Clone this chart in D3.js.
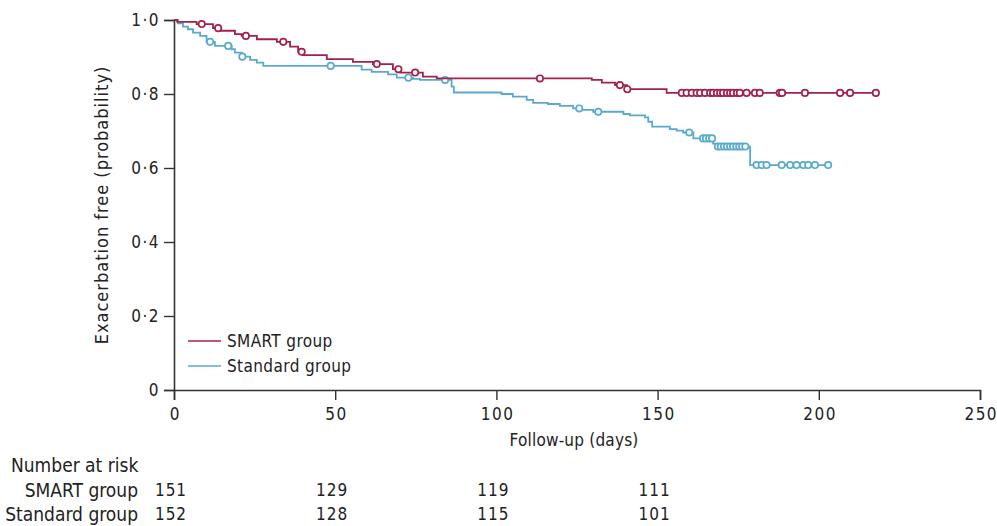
<!DOCTYPE html>
<html><head><meta charset="utf-8">
<script src="https://cdn.jsdelivr.net/npm/d3@7"></script>
<style>
body{margin:0;background:#fff}
text{font-family:"Liberation Sans Narrow","DejaVu Sans Condensed",sans-serif;fill:#222}
</style></head>
<body><svg id="c" width="997" height="526"></svg>
<script>
// ---- data ----
const smartTimes=[0,1,7,12.1,14.3,18.9,21,25.7,31.9,36,38.5,40,47.4,55.5,61.7,67.9,70.1,77.2,81.5,129.6,132.7,136.8,140.5,152.8];
const smartSurv=[1,0.995,0.989,0.978,0.971,0.962,0.957,0.948,0.941,0.928,0.914,0.905,0.894,0.887,0.881,0.867,0.858,0.847,0.842,0.838,0.831,0.824,0.813,0.803];
const smartEnd=217.7;
const smartCensored=[8.6,13.7,22.3,33.9,39.6,62.9,69.6,74.8,113.5,138.3,140.6,157.5,159,160.6,162.1,163.2,164.7,166.3,167.2,168.4,169.4,170.3,171.5,172.5,173.4,174.6,175.5,177.6,180.2,181.7,187.9,188.6,195.7,206.6,209.7,217.7];

const standardTimes=[0,1.2,2.8,4.3,5.9,8.1,10.1,12.7,17.9,18.9,21,23.6,25.7,27.7,58.2,61.3,66.4,69.1,74.1,76.3,86.1,86.8,101.6,105.1,109.4,111.4,116,119.7,123.8,125.9,130,139.4,141.4,146.1,147.1,148.3,153.8,155.9,157.9,161.1,167.2,168.3,178.7];
const standardSurv=[1,0.991,0.982,0.975,0.966,0.957,0.941,0.930,0.921,0.912,0.901,0.892,0.885,0.876,0.866,0.860,0.853,0.844,0.841,0.838,0.820,0.804,0.800,0.793,0.784,0.776,0.773,0.768,0.761,0.757,0.752,0.746,0.742,0.737,0.725,0.712,0.705,0.701,0.696,0.680,0.666,0.658,0.608];
const standardEnd=202.9;
const standardCensored=[11.2,16.8,21.2,48.6,72.7,84.1,125.7,131.6,159.8,164.1,165,166,166.9,168.7,169.6,170.6,171.5,172.5,173.4,174.4,175.3,176.2,177.2,180.7,182.3,183.8,188.5,191.1,193.1,195.2,196.7,198.8,202.9];

const xTicks=[0,50,100,150,200,250];
const yTicks=[0,0.2,0.4,0.6,0.8,1.0];
const yTickLabels=["0","0·2","0·4","0·6","0·8","1·0"];
const groupNames=["SMART group","Standard group"];
const riskTimes=[0,50,100,150];
const smartRisk=[151,129,119,111];
const standardRisk=[152,128,115,101];

const colors={smart:"#a3214a",standard:"#58abcf"};

// ---- chart ----
const svg=d3.select("#c");
const x=d3.scaleLinear().domain([0,250]).range([174,980]);
const y=d3.scaleLinear().domain([0,1]).range([390,20]);
const FONT='"Liberation Sans Narrow","DejaVu Sans Condensed",sans-serif';

const axisColor="#333";
const xAxis=svg.append("g").attr("transform","translate(0,390)")
  .call(d3.axisBottom(x).tickValues(xTicks).tickSize(10).tickPadding(8).tickFormat(d3.format("d")));
const yAxis=svg.append("g").attr("transform","translate(174,0)")
  .call(d3.axisLeft(y).tickValues(yTicks).tickSize(10).tickPadding(4).tickFormat((d,i)=>yTickLabels[i]));
[xAxis,yAxis].forEach(g=>{
  g.select(".domain").attr("stroke",axisColor).attr("stroke-width",1.6);
  g.selectAll(".tick line").attr("stroke",axisColor).attr("stroke-width",1.4);
  g.selectAll("text").attr("font-size",17).attr("fill","#222")
   .style("font-family",FONT).style("letter-spacing","1.5px");
});
xAxis.selectAll(".tick text").attr("dx","0.75px");

function survAt(times,surv,t){let v=surv[0];for(let i=0;i<times.length;i++){if(times[i]<=t)v=surv[i];}return v;}

function drawCurve(times,surv,end,cens,color){
  const pts=times.map((t,i)=>[t,surv[i]]);
  pts.push([end,surv[surv.length-1]]);
  const line=d3.line().x(d=>x(d[0])).y(d=>y(d[1])).curve(d3.curveStepAfter);
  svg.append("path").datum(pts).attr("d",line).attr("fill","none").attr("stroke",color).attr("stroke-width",1.8);
  svg.append("g").selectAll("circle").data(cens).join("circle")
    .attr("cx",d=>x(d)).attr("cy",d=>y(survAt(times,surv,d))).attr("r",3.2)
    .attr("fill","#fff").attr("stroke",color).attr("stroke-width",1.7);
}
drawCurve(standardTimes,standardSurv,standardEnd,standardCensored,colors.standard);
drawCurve(smartTimes,smartSurv,smartEnd,smartCensored,colors.smart);

// legend
const lg=svg.append("g");
[[colors.smart,groupNames[0],341],[colors.standard,groupNames[1],366]].forEach(([c,t,yy])=>{
  lg.append("line").attr("x1",188).attr("x2",221).attr("y1",yy).attr("y2",yy).attr("stroke",c).attr("stroke-width",1.6);
  lg.append("text").attr("x",227).attr("y",yy).attr("dy","0.35em").attr("font-size",17).style("letter-spacing","0.4px").text(t);
});

// axis titles
svg.append("text").attr("x",574).attr("y",440).attr("dy","0.35em").attr("text-anchor","middle").attr("font-size",17).style("letter-spacing","0.2px").text("Follow-up (days)");
svg.append("text").attr("transform","translate(102,205) rotate(-90)").attr("dy","0.35em").attr("text-anchor","middle").attr("font-size",18).style("letter-spacing","1px").text("Exacerbation free (probability)");

// risk table
svg.append("text").attr("x",11).attr("y",465).attr("dy","0.35em").attr("font-size",19).text("Number at risk");
[[groupNames[0],smartRisk,490],[groupNames[1],standardRisk,514]].forEach(([n,vals,yy])=>{
  svg.append("text").attr("x",138).attr("y",yy).attr("dy","0.35em").attr("text-anchor","end").attr("font-size",19).text(n);
  svg.append("g").selectAll("text").data(vals).join("text")
    .attr("x",(d,i)=>x(riskTimes[i])-3).attr("y",yy).attr("dy","0.35em").attr("text-anchor","middle").attr("font-size",17).style("letter-spacing","1px").text(d=>d);
});
</script></body></html>
